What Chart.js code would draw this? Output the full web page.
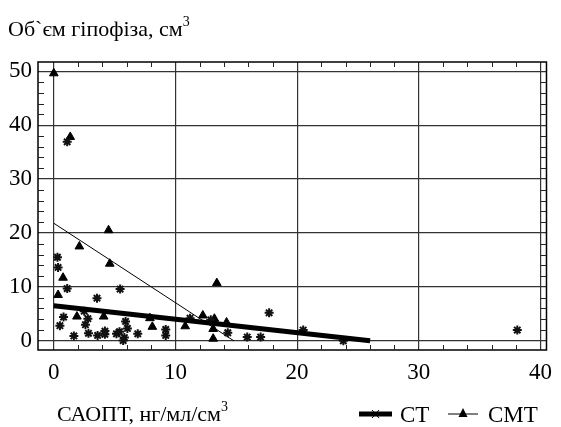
<!DOCTYPE html>
<html>
<head>
<meta charset="utf-8">
<script src="https://cdn.jsdelivr.net/npm/chart.js@4"></script>
<style>
  html, body { margin: 0; padding: 0; background: #fff; }
  #wrap { width: 561px; height: 427px; position: relative; }
  #probe { position: absolute; left: -999px; font-family: "Liberation Serif"; }
</style>
</head>
<body>
<div id="wrap"><canvas id="grafico" width="561" height="427"></canvas></div>
<span id="probe">Об`єм 0123</span>
<script>
// Дані
const ctPoints = [
  [0.3, 15.5], [0.35, 13.6], [1.1, 9.7], [3.55, 7.9], [5.45, 9.6],
  [0.8, 4.4], [0.5, 2.8], [2.5, 5.5], [2.8, 4.1], [2.6, 3.0],
  [1.65, 0.9], [2.85, 1.4], [3.6, 1.0], [4.2, 1.2], [4.2, 1.8],
  [5.15, 1.3], [5.4, 1.7], [5.9, 3.6], [6.05, 2.3], [5.8, 0.6],
  [5.7, 0.05], [6.9, 1.3], [9.2, 2.1], [9.2, 1.0], [11.2, 4.2],
  [12.9, 3.9], [14.3, 1.5], [15.9, 0.7], [17.0, 0.7], [17.7, 5.2],
  [20.5, 2.0], [23.8, 0.0], [38.1, 2.0], [1.1, 36.9]
];
const cmtPoints = [
  [0.0, 49.6], [1.35, 37.8], [4.5, 20.5], [2.1, 17.5], [4.6, 14.3],
  [0.76, 11.7], [0.35, 8.5], [1.9, 4.5], [4.1, 4.5], [7.9, 4.2],
  [8.1, 2.6], [10.8, 2.7], [12.25, 4.7], [13.2, 4.1], [13.1, 2.2],
  [13.1, 0.4], [13.4, 10.7], [14.2, 3.4]
];
const ctTrend = [[0, 6.5], [26, 0]];
const cmtTrend = [[0, 21.8], [14.8, 0]];
const xTicks = [0, 10, 20, 30, 40];
const yTicks = [0, 10, 20, 30, 40, 50];
const seriesNames = ['СТ', 'СМТ'];
const yTitle = 'Об`єм гіпофіза, см';
const xTitle = 'САОПТ, нг/мл/см';

const serif = "'Liberation Serif', 'Times New Roman', 'DejaVu Serif', serif";
const toXY = arr => arr.map(p => ({ x: p[0], y: p[1] }));

// рамка, дрібні поділки, підписи осей і легенда
const oformlennia = {
  id: 'oformlennia',
  afterDraw(chart) {
    const c = chart.ctx;
    const a = chart.chartArea;
    const sx = chart.scales.x, sy = chart.scales.y;
    c.save();
    c.strokeStyle = '#000';
    c.lineWidth = 1.5;
    c.strokeRect(a.left, a.top, a.right - a.left, a.bottom - a.top);

    c.lineWidth = 1;
    c.strokeStyle = '#222';
    c.beginPath();
    for (let v = 2; v < 40; v += 2) {
      if (v % 10 === 0) continue;
      const px = Math.round(sx.getPixelForValue(v)) + 0.5;
      c.moveTo(px, a.bottom); c.lineTo(px, a.bottom - 5);
      c.moveTo(px, a.top); c.lineTo(px, a.top + 5);
    }
    for (let v = 2; v < 52; v += 2) {
      if (v % 10 === 0) continue;
      const py = Math.round(sy.getPixelForValue(v)) + 0.5;
      c.moveTo(a.left, py); c.lineTo(a.left + 6, py);
      c.moveTo(a.right, py); c.lineTo(a.right - 6, py);
    }
    c.stroke();

    // назви осей
    c.fillStyle = '#000';
    c.textBaseline = 'alphabetic';
    c.textAlign = 'left';
    c.font = '22px ' + serif;
    c.fillText(yTitle, 8, 36);
    let w = c.measureText(yTitle).width;
    c.font = '14px ' + serif;
    c.fillText('3', 8 + w, 26);

    c.font = '22px ' + serif;
    c.fillText(xTitle, 57, 421);
    w = c.measureText(xTitle).width;
    c.font = '14px ' + serif;
    c.fillText('3', 57 + w, 411);

    // легенда
    const ly = 414;
    c.strokeStyle = '#000';
    c.lineWidth = 5;
    c.beginPath(); c.moveTo(359, ly); c.lineTo(392, ly); c.stroke();
    c.lineWidth = 1;
    c.beginPath();
    c.moveTo(372, ly - 4); c.lineTo(379, ly + 4);
    c.moveTo(379, ly - 4); c.lineTo(372, ly + 4);
    c.stroke();
    c.beginPath(); c.moveTo(448, ly); c.lineTo(478, ly); c.stroke();
    c.beginPath();
    c.moveTo(463, ly - 6); c.lineTo(467.5, ly + 3); c.lineTo(458.5, ly + 3);
    c.closePath(); c.fill();
    c.font = '23px ' + serif;
    c.fillText(seriesNames[0], 400, 422);
    c.fillText(seriesNames[1], 488, 422);
    c.restore();
  }
};

function build() {
  new Chart(document.getElementById('grafico'), {
    type: 'scatter',
    data: {
      datasets: [
        {
          label: seriesNames[0] + ' тренд',
          data: toXY(ctTrend),
          showLine: true,
          borderColor: '#000',
          borderWidth: 5,
          pointRadius: 0
        },
        {
          label: seriesNames[1] + ' тренд',
          data: toXY(cmtTrend),
          showLine: true,
          borderColor: '#000',
          borderWidth: 1,
          pointRadius: 0
        },
        {
          label: seriesNames[0],
          data: toXY(ctPoints),
          pointStyle: 'star',
          pointRadius: 4.5,
          borderColor: '#111',
          borderWidth: 2,
          backgroundColor: '#111'
        },
        {
          label: seriesNames[1],
          data: toXY(cmtPoints),
          pointStyle: 'triangle',
          pointRadius: 5,
          borderColor: '#000',
          borderWidth: 1,
          backgroundColor: '#000'
        }
      ]
    },
    options: {
      responsive: false,
      animation: false,
      devicePixelRatio: 1,
      layout: { padding: { top: 62, right: 8, left: 0, bottom: 0 } },
      plugins: { legend: { display: false }, tooltip: { enabled: false } },
      scales: {
        x: {
          type: 'linear',
          min: -1.3,
          max: 40.5,
          afterBuildTicks: s => { s.ticks = xTicks.map(v => ({ value: v })); },
          afterFit: s => { s.height = 77; },
          grid: { color: '#333', lineWidth: 1.2, drawTicks: false },
          border: { display: false },
          ticks: { color: '#000', padding: 9, font: { family: serif, size: 23 } }
        },
        y: {
          type: 'linear',
          min: -1.7,
          max: 51.7,
          afterBuildTicks: s => { s.ticks = yTicks.map(v => ({ value: v })); },
          afterFit: s => { s.width = 38; },
          grid: { color: '#333', lineWidth: 1.2, drawTicks: false },
          border: { display: false },
          ticks: { color: '#000', padding: 6, font: { family: serif, size: 23 } }
        }
      }
    },
    plugins: [oformlennia]
  });
}

if (document.fonts && document.fonts.load) {
  document.fonts.load("22px 'Liberation Serif'").then(build, build);
} else {
  build();
}
</script>
</body>
</html>
